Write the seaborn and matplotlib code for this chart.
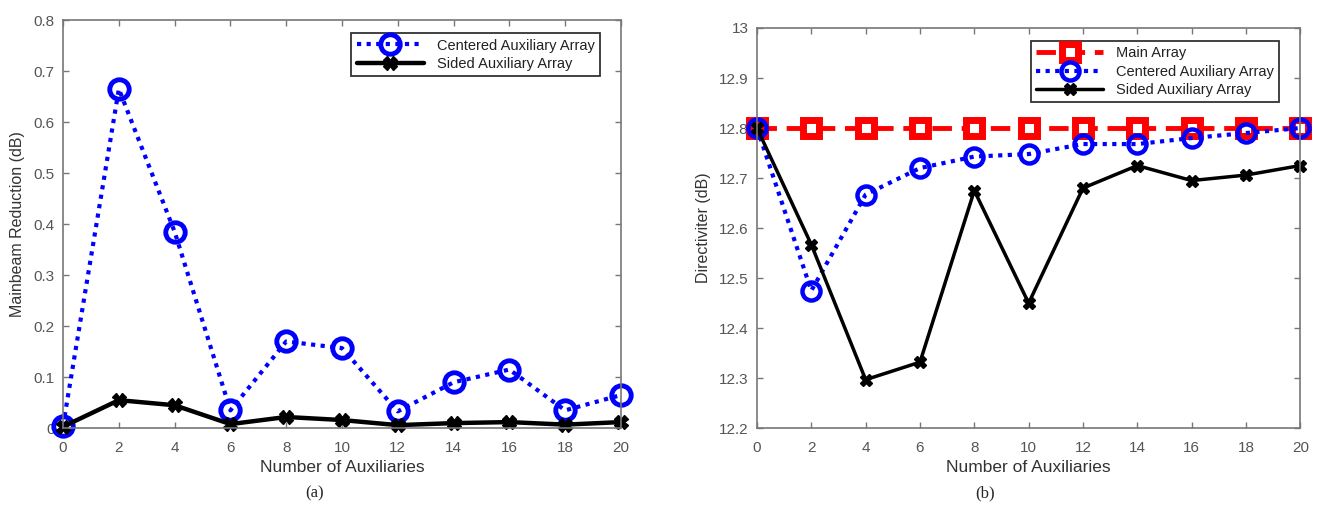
import numpy as np
import pandas as pd
import seaborn as sns
import matplotlib.pyplot as plt

# values
aux = [0, 2, 4, 6, 8, 10, 12, 14, 16, 18, 20]
reduction_centered = [0.005, 0.665, 0.385, 0.035, 0.17, 0.157, 0.033, 0.09, 0.115, 0.035, 0.065]
reduction_sided = [0.003, 0.055, 0.045, 0.008, 0.022, 0.016, 0.006, 0.010, 0.012, 0.007, 0.012]
dir_main = [12.8] * 11
dir_centered = [12.8, 12.475, 12.667, 12.72, 12.743, 12.748, 12.768, 12.768, 12.78, 12.79, 12.8]
dir_sided = [12.8, 12.567, 12.297, 12.332, 12.675, 12.45, 12.68, 12.725, 12.695, 12.706, 12.725]

sns.set_theme(style="white")
plt.rcParams['font.family'] = ['Liberation Sans', 'DejaVu Sans']

fig = plt.figure(figsize=(13.22, 5.28), dpi=100)
ax1 = fig.add_axes([0.0477, 0.189, 0.422, 0.773])
ax2 = fig.add_axes([0.5726, 0.189, 0.411, 0.758])

grey = '#777777'


def style_axes(ax):
    for s in ax.spines.values():
        s.set_color(grey)
        s.set_linewidth(1.2)
    ax.tick_params(direction='in', length=4, width=1, colors=grey, labelsize=11,
                   top=True, right=True, bottom=True, left=True, labelcolor='#555555')
    ax.tick_params(axis='x', pad=9)
    ax.tick_params(axis='y', pad=6)
    ax.set_xticks(aux)
    ax.set_xlim(0, 20)


def style_legend(ax):
    leg = ax.legend(loc='upper right', bbox_to_anchor=(0.975, 0.985), fontsize=10.5,
                    frameon=True, fancybox=False, handlelength=4.6, borderpad=0.35,
                    labelspacing=0.3, handletextpad=0.9)
    leg.get_frame().set_edgecolor('black')
    leg.get_frame().set_linewidth(1.3)
    for t in leg.get_texts():
        t.set_color('#222222')


# (a) mainbeam reduction
df_a = pd.DataFrame({'n': aux, 'c': reduction_centered, 's': reduction_sided})
sns.lineplot(data=df_a, x='n', y='c', ax=ax1, color='blue', lw=3, ls=(0, (1, 1.3)),
             marker='o', ms=14, mfc='none', mec='blue', mew=3.5,
             label='Centered Auxiliary Array', clip_on=False)
sns.lineplot(data=df_a, x='n', y='s', ax=ax1, color='black', lw=3.2, ls='-',
             marker='X', ms=10, mfc='black', mec='black', mew=1,
             label='Sided Auxiliary Array', clip_on=False)
ax1.set_ylim(0, 0.8)
ax1.set_yticks(np.arange(0, 0.81, 0.1))
ax1.set_yticklabels(['0', '0.1', '0.2', '0.3', '0.4', '0.5', '0.6', '0.7', '0.8'])
style_axes(ax1)
ax1.set_xlabel('Number of Auxiliaries', fontsize=12.5, color='#333333', labelpad=4)
ax1.set_ylabel('Mainbeam Reduction (dB)', fontsize=11.5, color='#333333', labelpad=6)
style_legend(ax1)

# (b) directivity
df_b = pd.DataFrame({'n': aux, 'm': dir_main, 'c': dir_centered, 's': dir_sided})
sns.lineplot(data=df_b, x='n', y='m', ax=ax2, color='red', lw=3.5, ls=(0, (4, 2)),
             marker='s', ms=11.5, mfc='white', mec='red', mew=5,
             label='Main Array', clip_on=False)
sns.lineplot(data=df_b, x='n', y='c', ax=ax2, color='blue', lw=3, ls=(0, (1, 1.3)),
             marker='o', ms=13, mfc='none', mec='blue', mew=3.2,
             label='Centered Auxiliary Array', clip_on=False)
sns.lineplot(data=df_b, x='n', y='s', ax=ax2, color='black', lw=2.5, ls='-',
             marker='X', ms=9, mfc='black', mec='black', mew=1,
             label='Sided Auxiliary Array', clip_on=False)
ax2.set_ylim(12.2, 13.0)
ax2.set_yticks(np.arange(12.2, 13.01, 0.1))
ax2.set_yticklabels(['12.2', '12.3', '12.4', '12.5', '12.6', '12.7', '12.8', '12.9', '13'])
style_axes(ax2)
ax2.set_xlabel('Number of Auxiliaries', fontsize=12.5, color='#333333', labelpad=4)
ax2.set_ylabel('Directiviter (dB)', fontsize=11.5, color='#333333', labelpad=6)
style_legend(ax2)

fig.text(315 / 1322, 1 - 493 / 528, '(a)', ha='center', va='center', fontsize=12,
         family=['Liberation Serif', 'DejaVu Serif'])
fig.text(985 / 1322, 1 - 493 / 528, '(b)', ha='center', va='center', fontsize=12,
         family=['Liberation Serif', 'DejaVu Serif'])

fig.savefig('out.png', dpi=100)
